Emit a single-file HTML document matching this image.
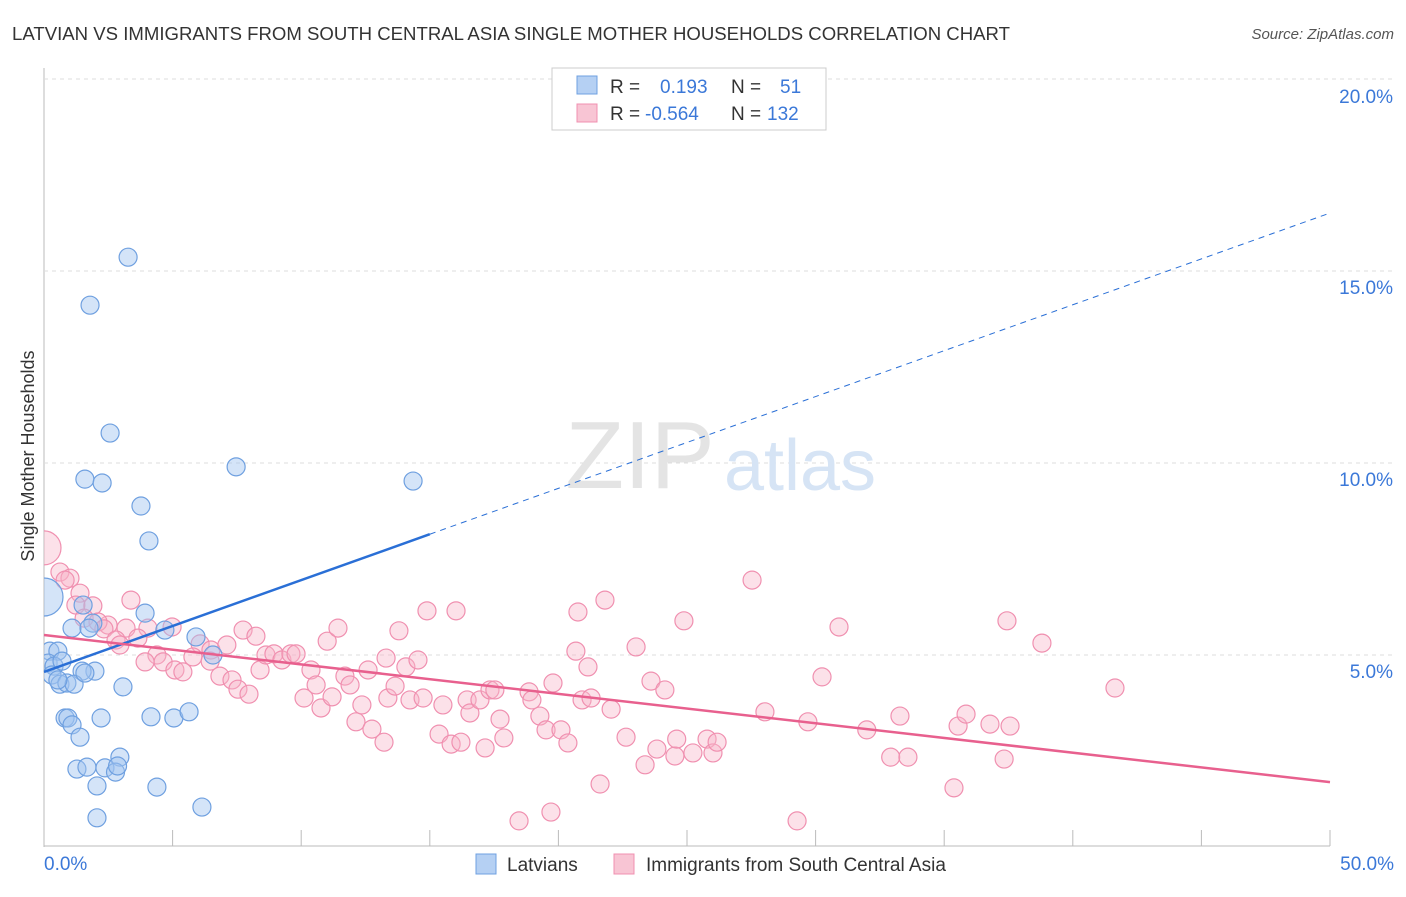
<!DOCTYPE html>
<html><head><meta charset="utf-8"><style>
body{margin:0;background:#fff;font-family:"Liberation Sans",sans-serif}
svg text{font-family:"Liberation Sans",sans-serif}
</style></head><body>
<svg width="1406" height="892" xmlns="http://www.w3.org/2000/svg">
<defs><clipPath id="plotclip"><rect x="44" y="60" width="1360" height="787"/></clipPath></defs>
<text x="12" y="40" font-size="18.6" fill="#333" textLength="998" lengthAdjust="spacingAndGlyphs">LATVIAN VS IMMIGRANTS FROM SOUTH CENTRAL ASIA SINGLE MOTHER HOUSEHOLDS CORRELATION CHART</text>
<text x="1394" y="39" font-size="15" fill="#555" font-style="italic" text-anchor="end">Source: ZipAtlas.com</text>
<g id="grid"></g>
<text x="640" y="488" font-size="96" fill="#e4e4e4" font-family="Liberation Serif" text-anchor="middle">ZIP</text>
<text x="800" y="490" font-size="72" fill="#d6e4f5" text-anchor="middle">atlas</text>
<text transform="translate(34,456) rotate(-90)" font-size="18" fill="#333" text-anchor="middle">Single Mother Households</text>
<g id="pts" clip-path="url(#plotclip)"></g>
<g id="lines"></g>
<g>
<rect x="552" y="68" width="274" height="62" fill="#fff" stroke="#ccc"/>
<rect x="577" y="76" width="20" height="18" fill="#b5d0f3" stroke="#6fa0e0"/>
<text x="610" y="93" font-size="19" fill="#333">R =</text><text x="660" y="93" font-size="19" fill="#3b78d8">0.193</text>
<text x="731" y="93" font-size="19" fill="#333">N =</text><text x="780" y="93" font-size="19" fill="#3b78d8">51</text>
<rect x="577" y="104" width="20" height="18" fill="#f8c5d4" stroke="#f090b0"/>
<text x="610" y="120" font-size="19" fill="#333">R =</text><text x="645" y="120" font-size="19" fill="#3b78d8">-0.564</text>
<text x="731" y="120" font-size="19" fill="#333">N =</text><text x="767" y="120" font-size="19" fill="#3b78d8">132</text>
</g>
<g>
<rect x="476" y="854" width="20" height="20" fill="#b5d0f3" stroke="#6fa0e0"/>
<text x="507" y="871" font-size="19" fill="#333">Latvians</text>
<rect x="614" y="854" width="20" height="20" fill="#f8c5d4" stroke="#f090b0"/>
<text x="646" y="871" font-size="19" fill="#333">Immigrants from South Central Asia</text>
</g>
</svg>
<script>
const blueX=[3.27,1.79,2.57,7.47,1.59,2.26,14.35,3.77,4.08,1.52,3.93,1.90,1.09,1.75,4.70,5.91,6.57,0.23,0.54,0.16,0.39,1.98,1.48,0.31,0.62,0.89,1.17,3.07,0.82,0.93,1.09,2.22,4.16,5.05,5.64,1.40,2.95,1.28,1.67,2.37,2.78,2.86,2.06,4.39,6.14,2.06,0.70,0.54,1.59];
const blueY=[15.36,14.11,10.78,9.90,9.58,9.48,9.53,8.88,7.97,6.30,6.09,5.83,5.70,5.70,5.65,5.47,5.0,5.10,5.10,4.79,4.71,4.58,4.58,4.48,4.24,4.27,4.24,4.17,3.36,3.36,3.18,3.36,3.39,3.36,3.52,2.86,2.34,2.03,2.08,2.06,1.95,2.11,1.59,1.56,1.04,0.76,4.84,4.35,4.53];
const pinkX=[0.62,1.01,0.82,1.40,1.24,1.90,3.38,1.56,2.49,2.10,3.19,2.33,2.80,2.95,4.04,3.65,4.98,7.74,8.24,6.07,6.49,7.11,4.39,3.93,4.63,5.09,5.40,5.79,6.46,6.84,7.31,7.54,7.97,8.40,8.63,8.94,9.25,9.60,9.80,10.11,10.38,10.58,10.77,11.20,11.01,11.43,11.70,11.90,12.13,12.36,12.60,12.75,13.22,13.30,13.37,13.65,13.80,14.07,14.23,14.54,14.74,14.89,15.36,15.51,15.83,16.02,16.21,16.45,16.56,16.95,17.15,17.34,17.53,17.73,17.88,18.47,18.86,18.97,19.28,19.52,19.71,19.79,20.10,20.37,20.68,20.76,20.92,21.15,21.27,21.62,21.81,22.05,22.63,23.02,23.37,23.60,23.83,24.14,24.53,24.60,24.88,25.23,25.78,26.01,26.17,27.53,28.03,29.28,29.70,30.25,30.91,31.99,32.92,33.28,33.59,35.38,35.54,35.85,36.78,37.33,37.44,37.56,38.80,41.64];
const pinkY=[7.16,7.0,6.95,6.61,6.30,6.28,6.43,5.96,5.78,5.86,5.70,5.68,5.39,5.26,5.70,5.44,5.73,5.65,5.49,5.29,5.13,5.26,5.0,4.82,4.82,4.61,4.56,4.95,4.84,4.45,4.35,4.11,3.98,4.61,5.0,5.03,4.87,5.03,5.03,3.88,4.61,4.22,3.62,3.91,5.36,5.70,4.45,4.22,3.26,3.70,4.61,3.07,2.73,4.92,3.88,4.19,5.63,4.69,3.83,4.87,3.88,6.15,2.94,3.70,2.68,6.15,2.73,3.83,3.49,3.83,2.58,4.09,4.09,3.33,2.84,0.68,4.04,3.83,3.41,3.05,0.91,4.27,3.05,2.71,5.10,6.12,3.83,4.69,3.88,1.64,6.43,3.59,2.86,5.21,2.14,4.32,2.55,4.09,2.37,2.81,5.89,2.45,2.81,2.45,2.73,6.95,3.52,0.68,3.26,4.43,5.73,3.05,2.34,3.41,2.34,1.54,3.15,3.46,3.20,2.29,5.89,3.15,5.31,4.14];
const bigBlue=[[0,6.51]], bigPink=[[0,7.79]];
const yTicks=[5,10,15,20];
const xTickVals=[0,5,10,15,20,25,30,35,40,45,50];
const blueTrend=[4.56,16.51], blueSolidEnd=15.0, pinkTrend=[5.52,1.69];
const NS='http://www.w3.org/2000/svg';
const sx=v=>44+v*25.72, sy=v=>847-v*38.4;
function mk(tag,attrs,parent){const e=document.createElementNS(NS,tag);for(const k in attrs)e.setAttribute(k,attrs[k]);parent.appendChild(e);return e;}
const grid=document.getElementById('grid');
let ax=mk('line',{x1:44,y1:68,x2:44,y2:847,stroke:'#bbb'},grid);


let bx=mk('line',{x1:44,y1:846,x2:1330,y2:846,stroke:'#bbb'},grid);


mk('line',{x1:44,y1:79,x2:1394,y2:79,stroke:'#ddd','stroke-dasharray':'4,4'},grid);
yTicks.forEach(t=>{
 if(t<20){const g=mk('line',{x1:44,y1:sy(t),x2:1394,y2:sy(t),stroke:'#ddd','stroke-dasharray':'4,4'},grid);
 
 }
 const tx=mk('text',{x:1393,y:sy(t)+(t==20?24:23),'font-size':19,fill:'#3b78d8','text-anchor':'end'},grid);tx.textContent=t.toFixed(1)+'%';
 
 
});
xTickVals.forEach(t=>{if(t>0){const l=mk('line',{x1:sx(t),y1:830,x2:sx(t),y2:846,stroke:'#bbb'},grid);
 
 }});
let xl=mk('text',{x:44,y:870,'font-size':19,fill:'#3b78d8'},grid);xl.textContent='0.0%';


let xr=mk('text',{x:1394,y:870,'font-size':19,fill:'#3b78d8','text-anchor':'end'},grid);xr.textContent='50.0%';


const pts=document.getElementById('pts');
function dot(x,y,r,blue){const c=mk('circle',{cx:sx(x),cy:sy(y),r:r,fill:blue?'rgba(160,196,240,0.45)':'rgba(248,180,200,0.4)',stroke:blue?'#6fa0e0':'#f090b0','stroke-width':1.2},pts);
 
 }
bigPink.forEach(p=>dot(p[0],p[1],17,false));
pinkX.forEach((x,i)=>dot(x,pinkY[i],9,false));
bigBlue.forEach(p=>dot(p[0],p[1],19,true));
blueX.forEach((x,i)=>dot(x,blueY[i],9,true));
const lines=document.getElementById('lines');
const by=x=>blueTrend[0]+(blueTrend[1]-blueTrend[0])*x/50;
let l1=mk('line',{x1:sx(0),y1:sy(by(0)),x2:sx(blueSolidEnd),y2:sy(by(blueSolidEnd)),stroke:'#2a6fd6','stroke-width':2.5},lines);


let l2=mk('line',{x1:sx(blueSolidEnd),y1:sy(by(blueSolidEnd)),x2:sx(50),y2:sy(by(50)),stroke:'#2a6fd6','stroke-width':1,'stroke-dasharray':'6,5'},lines);


let l3=mk('line',{x1:sx(0),y1:sy(pinkTrend[0]),x2:sx(50),y2:sy(pinkTrend[1]),stroke:'#e8608e','stroke-width':2.5},lines);


</script>
</body></html>
